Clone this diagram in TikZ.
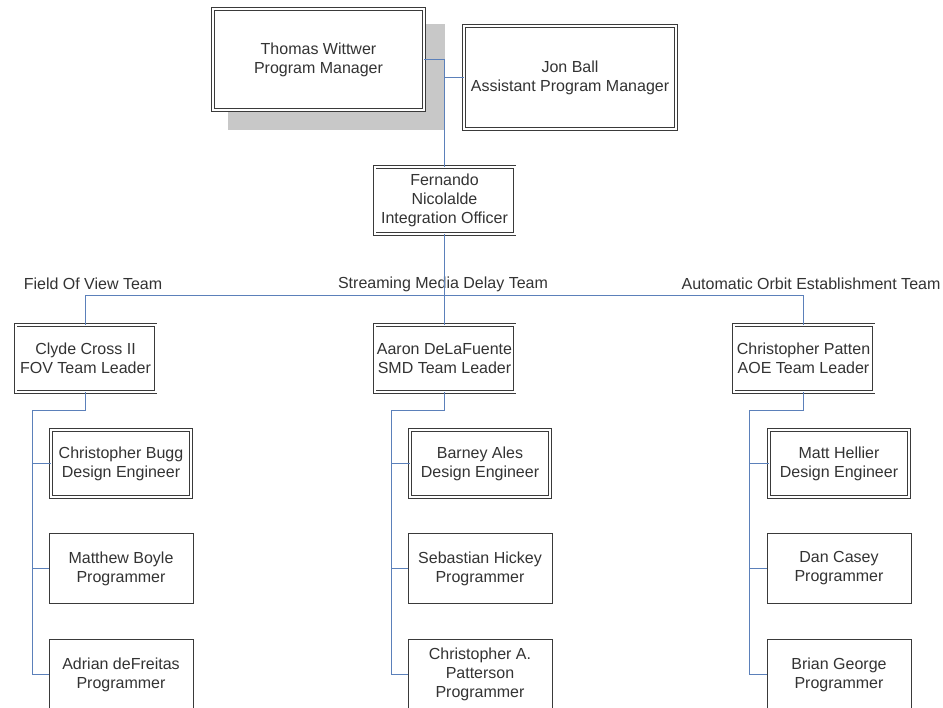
\documentclass[tikz,border=0pt]{standalone}
\usepackage{fontspec}
\setmainfont{Liberation Sans}
\definecolor{connc}{HTML}{5B80BA}
\definecolor{boxline}{HTML}{3A3A3A}
\definecolor{shadowgray}{HTML}{C8C8C8}
\definecolor{txt}{HTML}{333333}
\begin{document}
\begin{tikzpicture}[x=1pt,y=-1pt,
  every node/.style={font=\fontsize{16}{19}\selectfont, text=txt, align=center},
  dbl/.style={draw=boxline, line width=0.9pt, double=white, double distance=2pt, fill=white, inner sep=0pt, minimum width=140pt, minimum height=67pt},
  sgl/.style={draw=boxline, line width=1pt, fill=white, inner sep=0pt, minimum width=144pt, minimum height=70pt},
  conn/.style={draw=connc, line width=1pt},
  lbl/.style={inner sep=0pt}]
\useasboundingbox (0,0) rectangle (943,708);
\clip (0,0) rectangle (943,708);
\fill[white] (0,0) rectangle (943,708);
% shadow of the program manager box
\fill[shadowgray] (228,24) rectangle (445,130);
% boxes
\node[dbl, minimum width=211pt, minimum height=101pt] (tw) at (318.5,59.5) {Thomas Wittwer\\Program Manager};
\node[dbl, minimum width=212pt, minimum height=103pt] (jb) at (570,77.5) {Jon Ball\\Assistant Program Manager};
\node[dbl] (fn) at (444.5,200.5) {Fernando\\Nicolalde\\Integration Officer};
% team labels
\node[lbl] (tl1) at (93,284) {Field Of View Team};
\node[lbl] (tl2) at (443,284) {Streaming Media Delay Team};
\node[lbl] (tl3) at (811,284) {Automatic Orbit Establishment Team};
% team leaders
\node[dbl] (cc) at (85.5,358.5) {Clyde Cross II\\FOV Team Leader};
\node[dbl] (ad) at (444.5,358.5) {Aaron DeLaFuente\\SMD Team Leader};
\node[dbl] (cp) at (803.5,358.5) {Christopher Patten\\AOE Team Leader};
% FOV members
\node[dbl] (a1) at (121,463.5) {Christopher Bugg\\Design Engineer};
\node[sgl] (a2) at (121,568.5) {Matthew Boyle\\Programmer};
\node[sgl] (a3) at (121,674.5) {Adrian deFreitas\\Programmer};
% SMD members
\node[dbl] (b1) at (480,463.5) {Barney Ales\\Design Engineer};
\node[sgl] (b2) at (480,568.5) {Sebastian Hickey\\Programmer};
\node[sgl] (b3) at (480,674.5) {Christopher A.\\Patterson\\Programmer};
% AOE members
\node[dbl] (c1) at (839,463.5) {Matt Hellier\\Design Engineer};
\node[sgl] (c2) at (839,568.5) {Dan Casey\\Programmer};
\node[sgl] (c3) at (839,674.5) {Brian George\\Programmer};
% coordinates
\coordinate (bar) at (444.5,295.5);
\coordinate (barL) at (85.5,295.5);
\coordinate (barR) at (803.5,295.5);
\coordinate (va) at (32.5,410.5);
\coordinate (vb) at (391.5,410.5);
\coordinate (vc) at (749.5,410.5);
% connectors
\draw[conn] (tw.east) -| (fn.north);
\draw[conn] (jb.west) -- (jb.west -| fn.north);
\draw[conn] (fn.south) -- (bar);
\draw[conn] (barL) -- (barR);
\draw[conn] (barL) -- (cc.north);
\draw[conn] (bar) -- (ad.north);
\draw[conn] (barR) -- (cp.north);
\draw[conn] (cc.south) |- (va) -- (va |- a3.west);
\draw[conn] (ad.south) |- (vb) -- (vb |- b3.west);
\draw[conn] (cp.south) |- (vc) -- (vc |- c3.west);
\draw[conn] (va |- a1.west) -- (a1.west);
\draw[conn] (va |- a2.west) -- (a2.west);
\draw[conn] (va |- a3.west) -- (a3.west);
\draw[conn] (vb |- b1.west) -- (b1.west);
\draw[conn] (vb |- b2.west) -- (b2.west);
\draw[conn] (vb |- b3.west) -- (b3.west);
\draw[conn] (vc |- c1.west) -- (c1.west);
\draw[conn] (vc |- c2.west) -- (c2.west);
\draw[conn] (vc |- c3.west) -- (c3.west);
\end{tikzpicture}
\end{document}
